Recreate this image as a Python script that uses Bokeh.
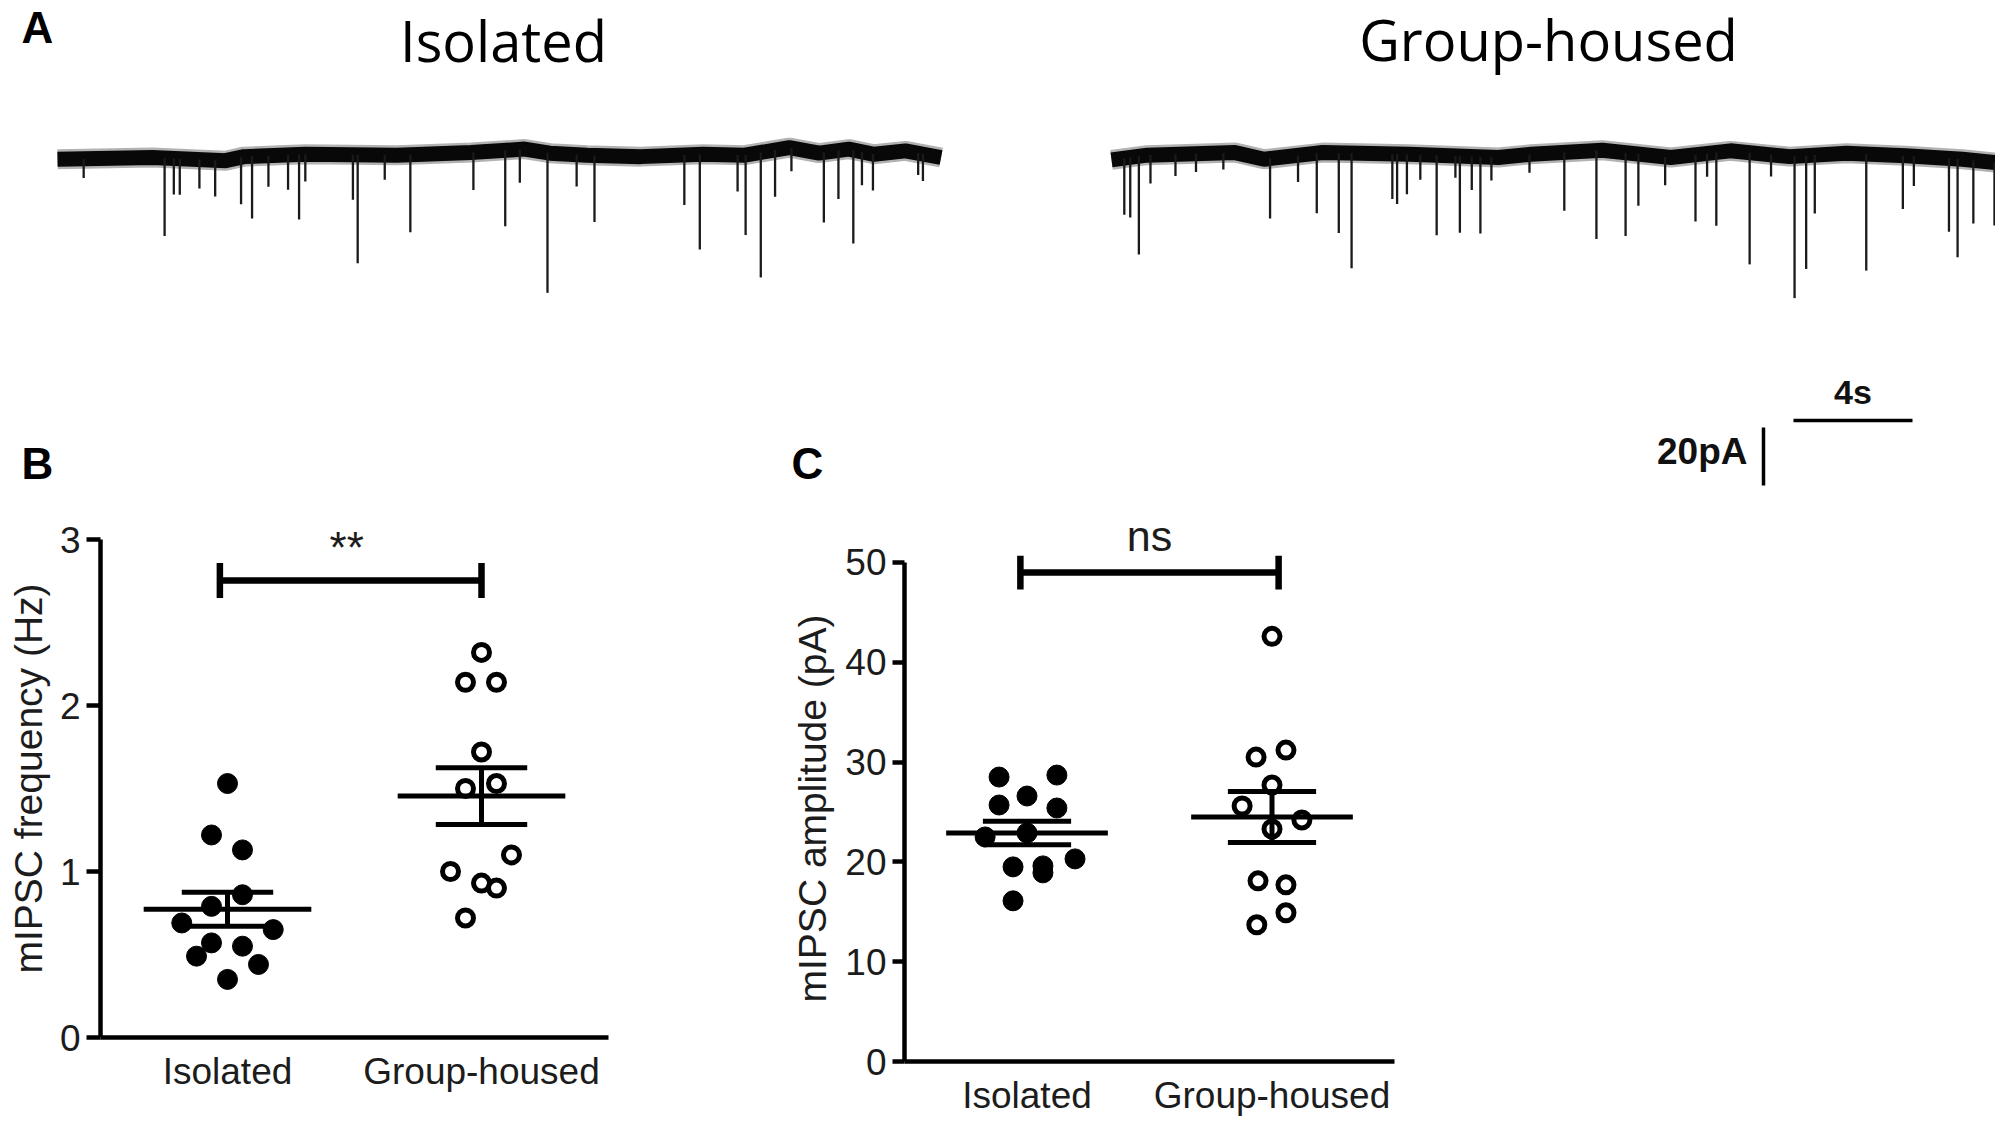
import numpy as np
from bokeh.plotting import figure
from bokeh.models import Range1d, FixedTicker, Label, Title
from bokeh.layouts import row, column
from bokeh.embed import file_html
from bokeh.resources import INLINE

# ---------------- data ----------------
categories = ["Isolated", "Group-housed"]

# Panel B: mIPSC frequency (Hz)
freq_isolated = [1.53, 1.22, 1.13, 0.86, 0.79, 0.69, 0.65, 0.57, 0.55, 0.49, 0.44, 0.35]
freq_isolated_jitter = [0, -0.063, 0.059, 0.059, -0.063, -0.18, 0.18, -0.063, 0.059, -0.122, 0.122, 0]
freq_group = [2.32, 2.14, 2.14, 1.72, 1.50, 1.53, 1.10, 1.00, 0.93, 0.90, 0.72]
freq_group_jitter = [0, -0.063, 0.059, 0, -0.063, 0.059, 0.118, -0.122, 0, 0.059, -0.063]

# Panel C: mIPSC amplitude (pA)
amp_isolated = [28.5, 28.7, 26.6, 25.7, 25.4, 22.5, 22.9, 20.3, 19.5, 19.6, 18.9, 16.1]
amp_isolated_jitter = [-0.114, 0.122, 0, -0.114, 0.122, -0.171, 0, 0.196, -0.057, 0.065, 0.065, -0.057]
amp_group = [42.6, 31.2, 30.5, 27.7, 25.6, 24.2, 23.3, 18.1, 17.7, 14.9, 13.7]
amp_group_jitter = [0, 0.057, -0.065, 0, -0.122, 0.122, 0, -0.057, 0.057, 0.057, -0.062]

# Panel A: example traces (time in s, current in pA)
iso_base_t = [0, 3.19, 5.65, 6.27, 8.33, 11.4, 13.9, 15.7, 16.55, 17.8, 19.6, 21.7, 23.1, 24.6, 25.6, 26.6, 27.45, 28.5, 29.7]
iso_base_pA = [-0.6, 0.0, -1.1, 0.3, 1.1, 0.8, 1.7, 2.9, 1.5, 0.8, 0.3, 1.1, 0.8, 3.4, 1.5, 2.9, 1.1, 2.3, 0.0]
iso_event_t = [0.88, 3.60, 3.91, 4.11, 4.77, 5.30, 6.17, 6.54, 7.09, 7.75, 8.12, 8.33, 9.93, 10.09, 11.0, 11.86,
               13.98, 15.05, 15.54, 16.47, 17.45, 18.05, 21.07, 21.59, 22.86, 23.13, 23.64, 24.12, 24.67, 25.76,
               26.25, 26.75, 27.04, 27.41, 28.93, 29.09]
iso_event_pA = [6.6, 26.9, 12.4, 12.4, 10.0, 12.5, 16.2, 21.4, 10.7, 12.0, 22.4, 9.4, 15.5, 37.4, 8.5, 26.7,
                13.0, 26.2, 11.5, 48.3, 11.0, 23.0, 17.2, 32.8, 12.6, 27.6, 43.1, 16.1, 8.0, 24.1,
                16.7, 32.2, 11.5, 12.6, 7.5, 9.3]

grp_base_t = [0, 1.2, 4.15, 5.13, 7.1, 10.0, 13.0, 14.1, 16.5, 18.8, 20.8, 22.8, 24.7, 26.7, 28.6, 29.7]
grp_base_pA = [-0.8, 0.8, 1.7, -0.6, 1.7, 1.1, 0.0, 1.1, 2.5, 0.0, 2.3, 0.3, 1.5, 0.6, -0.6, -1.7]
grp_event_t = [0.43, 0.63, 0.92, 1.31, 2.15, 2.84, 3.76, 5.33, 6.27, 6.90, 7.64, 8.07, 9.44, 9.60, 9.93, 10.38,
               10.93, 11.56, 11.71, 12.11, 12.40, 12.77, 14.05, 15.22, 16.30, 17.28, 17.71, 18.61, 19.63, 20.02,
               20.33, 21.45, 22.17, 22.96, 23.35, 23.64, 25.37, 26.60, 26.97, 28.15, 28.44, 28.97, 29.68]
grp_event_pA = [19.5, 20.7, 33.9, 9.8, 7.5, 6.3, 5.7, 20.7, 9.2, 20.7, 27.6, 39.7, 15.5, 17.2, 13.8, 8.6,
                27.6, 7.5, 26.4, 11.5, 26.4, 8.0, 6.3, 20.1, 30.5, 28.7, 17.8, 9.8, 23.0, 8.0,
                25.3, 38.5, 7.5, 48.9, 39.1, 20.1, 40.2, 18.4, 10.3, 25.3, 33.9, 21.8, 21.8]

scale_time_s = 4
scale_current_pA = 20

# ---------------- style / layout constants ----------------
FONT = "Liberation Sans"
TXT = "#1c1c1c"
PX_S = 29.75      # px per second in traces
PX_PA = 2.9       # px per pA in traces
TOP_H = 490
BASE_PX = 157     # baseline distance from top of the trace panels
BOT_H = 628
LIFT = 0.4        # label anchor correction (fraction of font size)


def trace_fig(width, lead_px, base_t, base_pA, ev_t, ev_pA):
    x0 = -lead_px / PX_S
    p = figure(width=width, height=TOP_H,
               x_range=Range1d(x0, x0 + width / PX_S),
               y_range=Range1d(-(TOP_H - BASE_PX) / PX_PA, BASE_PX / PX_PA),
               toolbar_location=None, output_backend="svg", title=None,
               x_axis_location=None, y_axis_location=None, min_border=0)
    p.outline_line_color = None
    p.grid.visible = False
    p.line(base_t, base_pA, line_width=20, color="black", alpha=0.3)
    p.line(base_t, base_pA, line_width=15, color="#080808")
    b = np.interp(ev_t, base_t, base_pA)
    p.segment(x0=ev_t, y0=b, x1=ev_t, y1=b - np.array(ev_pA), line_width=2.3, color="#1a1a1a")
    return p


def px_to_t(px, lead):
    return (px - lead) / PX_S


def px_to_pA(py):
    return (BASE_PX - py) / PX_PA


def text_label(p, text, x, baseline_px, fs, font=FONT, bold=False, align="left", color="black"):
    p.add_layout(Label(x=x, y=px_to_pA(baseline_px - LIFT * fs), text=text, text_font=font,
                       text_font_style="bold" if bold else "normal", text_font_size=f"{fs}px",
                       text_color=color, text_align=align, text_baseline="alphabetic"))


# --- A, left trace (also carries the panel letters B and C) ---
pA1 = trace_fig(1000, 57, iso_base_t, iso_base_pA, iso_event_t, iso_event_pA)
text_label(pA1, "A", px_to_t(21, 57), 45, 44, bold=True)
text_label(pA1, "B", px_to_t(21, 57), 481, 44, bold=True)
text_label(pA1, "C", px_to_t(791, 57), 481, 44, bold=True)
text_label(pA1, categories[0], px_to_t(503, 57), 62, 56, font="Open Sans", align="center")

# --- A, right trace with scale bar ---
pA2 = trace_fig(995, 111, grp_base_t, grp_base_pA, grp_event_t, grp_event_pA)
text_label(pA2, categories[1], px_to_t(1548, 1111), 61, 56, font="Open Sans", align="center")
hx0, hy = px_to_t(1793, 1111), px_to_pA(420)
vx, vy1 = px_to_t(1763, 1111), px_to_pA(427)
pA2.segment(x0=[hx0, vx], y0=[hy, vy1], x1=[hx0 + scale_time_s, vx], y1=[hy, vy1 - scale_current_pA],
            line_width=3.5, color="black")
text_label(pA2, f"{scale_time_s}s", hx0 + scale_time_s / 2, 405, 34, bold=True, align="center", color="#111111")
text_label(pA2, f"{scale_current_pA}pA", px_to_t(1747, 1111), 466, 37, bold=True, align="right", color="#111111")


def mean_sem(v):
    a = np.asarray(v, dtype=float)
    return a.mean(), a.std(ddof=1) / np.sqrt(len(a))


def scatter_panel(width, border, y_end, ticks, axis_label, data, sig, tick_out, ylab_standoff):
    bl, br, bt, bb = border
    p = figure(width=width, height=BOT_H, x_range=Range1d(0, 2), y_range=Range1d(0, y_end),
               toolbar_location=None, output_backend="svg", title=None,
               min_border_left=bl, min_border_right=br, min_border_top=bt, min_border_bottom=bb)
    p.outline_line_color = None
    p.grid.visible = False
    for ax in p.axis:
        ax.axis_line_width = 4.5
        ax.axis_line_color = "black"
        ax.major_label_text_font = FONT
        ax.major_label_text_font_size = "37px"
        ax.major_label_text_color = TXT
        ax.minor_tick_line_color = None
    p.yaxis.ticker = FixedTicker(ticks=ticks)
    p.yaxis.bounds = (ticks[0], ticks[-1])
    p.yaxis.major_tick_out = tick_out
    p.yaxis.major_tick_in = 0
    p.yaxis.major_tick_line_width = 4.5
    p.yaxis.major_label_standoff = 6
    p.yaxis.axis_label = axis_label
    p.yaxis.axis_label_text_font = FONT
    p.yaxis.axis_label_text_font_size = "39px"
    p.yaxis.axis_label_text_font_style = "normal"
    p.yaxis.axis_label_text_color = TXT
    p.yaxis.axis_label_standoff = ylab_standoff
    p.xaxis.ticker = FixedTicker(ticks=[0.5, 1.5])
    p.xaxis.major_label_overrides = {0.5: categories[0], 1.5: categories[1]}
    p.xaxis.major_tick_line_color = None
    p.xaxis.major_tick_out = 0
    p.xaxis.major_tick_in = 0
    p.xaxis.major_label_standoff = 13

    (iso, iso_j), (grp, grp_j) = data
    p.scatter([0.5 + j for j in iso_j], iso, size=20, color="black")
    p.scatter([1.5 + j for j in grp_j], grp, size=16, fill_color="white",
              line_color="black", line_width=5)
    for cx, vals in ((0.5, iso), (1.5, grp)):
        m, s = mean_sem(vals)
        p.segment(x0=[cx - 0.33, cx - 0.18, cx - 0.18, cx], y0=[m, m + s, m - s, m - s],
                  x1=[cx + 0.33, cx + 0.18, cx + 0.18, cx], y1=[m, m + s, m - s, m + s],
                  line_width=5, color="black")
    sx0, sx1, sy, cap = sig
    p.segment(x0=[sx0, sx0, sx1], y0=[sy, sy - cap, sy - cap], x1=[sx1, sx0, sx1], y1=[sy, sy + cap, sy + cap],
              line_width=6.5, color="black")
    return p


# B: frame x 100..608, y 519..1037 (166 px per Hz)
pB = scatter_panel(780, (100, 172, 29, 81), 518 / 166, [0, 1, 2, 3], "mIPSC frequency (Hz)",
                   ((freq_isolated, freq_isolated_jitter), (freq_group, freq_group_jitter)),
                   (0.47, 1.5, 2.753, 0.105), 14, 7)
pB.add_layout(Label(x=0.969, y=(1037 - 547) / 166, text="**", text_font=FONT, text_font_size="44px",
                    text_color=TXT, text_align="center", text_baseline="alphabetic"))

# C: frame x 904..1394, y 555..1062 (10 px per pA)
pC = scatter_panel(660, (124, 46, 65, 56), 50.7, [0, 10, 20, 30, 40, 50], "mIPSC amplitude (pA)",
                   ((amp_isolated, amp_isolated_jitter), (amp_group, amp_group_jitter)),
                   (0.473, 1.527, 49.0, 1.7), 12, 8)
pC.add_layout(Title(text="ns", align="center", text_font=FONT, text_font_size="43px",
                    text_font_style="normal", text_color=TXT, standoff=-8), "above")

layout = column(row(pA1, pA2), row(column(pB), column(pC)))
open("out.html", "w").write(file_html(layout, INLINE))
